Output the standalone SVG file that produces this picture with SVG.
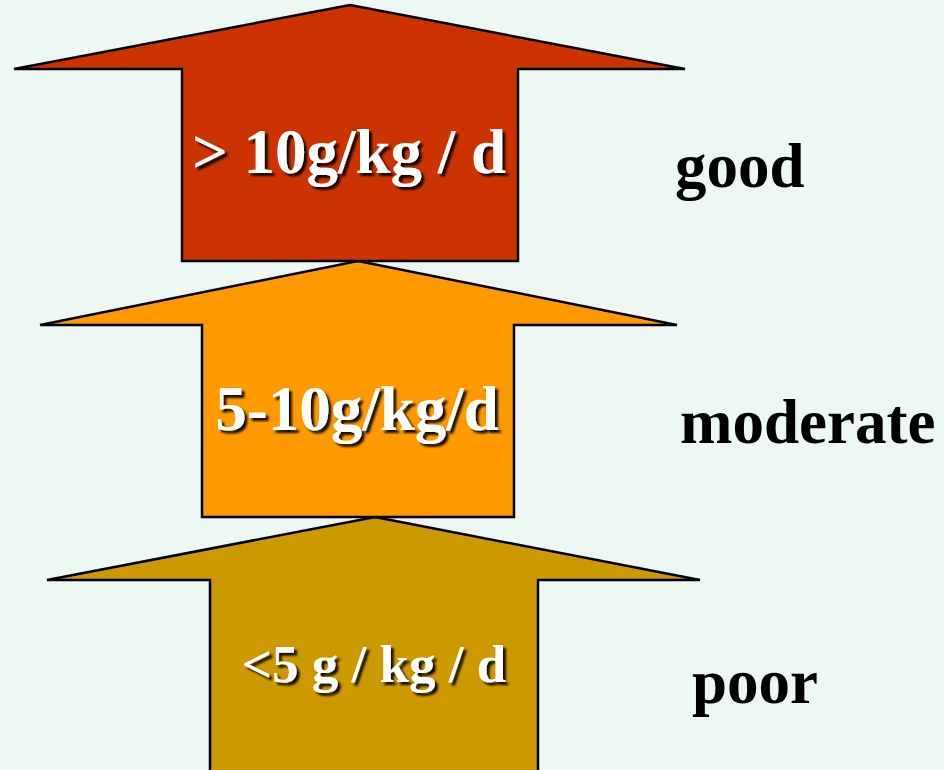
<svg xmlns="http://www.w3.org/2000/svg" width="944" height="770" viewBox="0 0 944 770">
<defs>
<filter id="sh" x="-10%" y="-30%" width="130%" height="160%">
<feDropShadow dx="3" dy="3" stdDeviation="0.8" flood-color="#000" flood-opacity="0.9"/>
</filter>
</defs>
<style>
.arrow{stroke:#000;stroke-width:2.5;stroke-linejoin:miter}
.inner{font-family:"Liberation Serif","Times New Roman",serif;font-weight:bold;fill:#fff;text-anchor:middle;filter:url(#sh)}
.side{font-family:"Liberation Serif","Times New Roman",serif;font-weight:bold;fill:#000;font-size:63px}
</style>
<rect width="944" height="770" fill="#EEF8F2"/>
<g id="arrow-poor">
<polygon class="arrow" fill="#CC9900" points="375,517 700,580 538,580 538,775 210,775 210,580 47,580"/>
<text class="inner" x="374" y="682" font-size="53">&lt;5 g / kg / d</text>
</g>
<g id="arrow-moderate">
<polygon class="arrow" fill="#FF9900" points="358,261 677,325 514,325 514,517 202,517 202,325 40,325"/>
<text class="inner" x="357" y="430" font-size="63">5-10g/kg/d</text>
</g>
<g id="arrow-good">
<polygon class="arrow" fill="#CC3300" points="350,5 685,69 518,69 518,261 182,261 182,69 14,69"/>
<text class="inner" x="349" y="173" font-size="63">&gt; 10g/kg / d</text>
</g>
<g id="label-good"><text class="side" x="675" y="187">good</text></g>
<g id="label-moderate"><text class="side" x="680" y="443" font-size="64">moderate</text></g>
<g id="label-poor"><text class="side" x="692" y="703">poor</text></g>
<g id="connectors"></g>
</svg>
